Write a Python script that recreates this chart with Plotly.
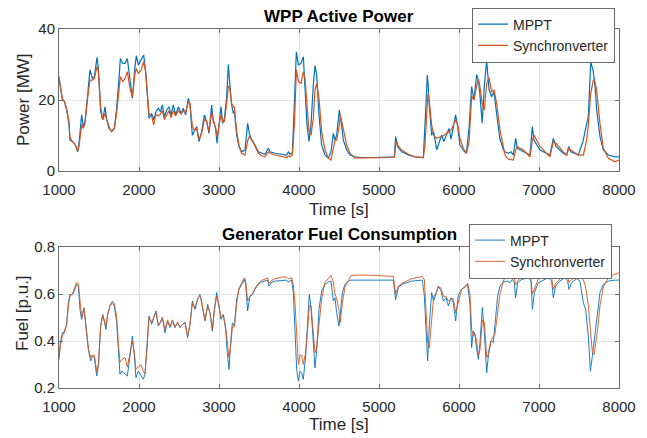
import plotly.graph_objects as go

# ---------------- data ----------------
t_power = [1000, 1025, 1042, 1067, 1096, 1125, 1137, 1167, 1192, 1221, 1233, 1250, 1283, 1304, 1325, 1358,
           1387, 1417, 1442, 1475, 1492, 1521, 1546, 1575, 1596, 1625, 1658, 1692, 1721, 1750, 1767, 1796,
           1825, 1854, 1887, 1917, 1950, 1967, 1992, 2025, 2058, 2083, 2108, 2125, 2158, 2183, 2212, 2242,
           2267, 2292, 2317, 2346, 2375, 2400, 2429, 2458, 2492, 2525, 2554, 2583, 2617, 2637, 2667, 2692,
           2721, 2750, 2783, 2817, 2846, 2875, 2908, 2929, 2958, 2975, 3000, 3025, 3046, 3067, 3096, 3117,
           3133, 3158, 3179, 3192, 3221, 3250, 3283, 3325, 3358, 3379, 3408, 3450, 3492, 3533, 3575, 3617,
           3637, 3700, 3783, 3846, 3867, 3888, 3917, 3942, 3967, 3992, 4025, 4054, 4075, 4100, 4125, 4150,
           4179, 4200, 4221, 4250, 4283, 4325, 4367, 4400, 4429, 4450, 4471, 4483, 4504, 4517, 4525, 4554,
           4596, 4637, 4700, 4783, 4950, 5117, 5192, 5208, 5220, 5233, 5283, 5367, 5450, 5554, 5575, 5604,
           5615, 5625, 5658, 5683, 5721, 5783, 5810, 5875, 5900, 5958, 5980, 6012, 6054, 6092, 6125, 6158,
           6187, 6221, 6242, 6260, 6290, 6317, 6346, 6375, 6408, 6437, 6471, 6512, 6554, 6575, 6617, 6650,
           6679, 6708, 6729, 6804, 6887, 6917, 6937, 7012, 7137, 7179, 7212, 7304, 7346, 7371, 7396, 7492,
           7554, 7596, 7617, 7646, 7679, 7700, 7721, 7762, 7804, 7867, 7950, 8000]

power_mppt = [26.6, 22.3, 20.0, 19.7, 17.2, 13.0, 8.7, 8.3, 7.8, 6.4, 5.4, 7.8, 15.8, 12.5, 13.9, 21.4,
              28.5, 26.1, 26.6, 32.0, 28.9, 16.7, 14.4, 18.1, 14.4, 12.0, 11.3, 12.0, 17.7, 26.1, 31.7, 30.3,
              30.3, 31.7, 26.1, 20.5, 29.4, 32.5, 29.9, 31.3, 32.7, 28.0, 20.5, 14.8, 16.2, 14.4, 16.7, 17.7,
              16.7, 18.6, 15.3, 17.2, 18.1, 15.8, 18.6, 15.8, 18.1, 16.2, 17.7, 15.8, 20.5, 18.6, 10.1, 11.1,
              12.5, 8.3, 11.1, 15.8, 13.9, 10.6, 18.6, 13.9, 12.0, 7.8, 13.0, 18.1, 13.4, 14.8, 20.9, 30.0,
              25.2, 18.6, 16.2, 17.0, 10.1, 6.9, 5.4, 5.9, 13.4, 10.6, 8.7, 7.3, 5.4, 5.0, 4.7, 6.4,
              5.4, 5.0, 4.7, 4.5, 5.4, 4.7, 5.0, 22.3, 33.6, 29.9, 30.3, 32.2, 24.2, 13.0, 8.3, 13.0,
              24.2, 29.7, 27.0, 15.8, 7.3, 4.5, 3.6, 5.4, 10.6, 8.7, 10.1, 13.0, 17.2, 15.5, 13.9, 8.7,
              5.9, 4.5, 4.0, 3.8, 3.8, 3.8, 4.0, 9.7, 8.0, 6.9, 5.4, 4.5, 4.0, 3.8, 13.0, 27.0,
              24.0, 19.5, 10.1, 11.1, 6.0, 10.1, 8.3, 12.0, 9.0, 15.8, 13.0, 7.3, 5.9, 5.0, 12.0, 23.8,
              20.0, 27.2, 25.6, 22.0, 13.5, 24.2, 31.0, 23.0, 20.9, 22.3, 16.0, 9.0, 6.0, 5.4, 5.0, 5.4,
              4.5, 9.2, 6.4, 5.4, 4.5, 12.5, 8.7, 5.9, 4.5, 9.2, 6.9, 5.0, 4.5, 6.9, 5.4, 4.5,
              8.7, 13.4, 15.3, 30.8, 28.0, 24.0, 17.2, 9.7, 5.9, 4.5, 4.0, 4.0]

power_sync = [26.0, 22.5, 20.5, 19.5, 17.5, 14.0, 9.5, 8.3, 7.8, 6.6, 5.6, 7.0, 13.0, 12.0, 13.5, 20.5,
              25.6, 25.6, 26.0, 29.5, 28.0, 18.0, 14.5, 16.2, 14.8, 12.5, 11.0, 12.0, 16.5, 23.0, 26.6, 25.2,
              26.0, 28.0, 23.3, 20.9, 27.5, 28.9, 27.5, 28.4, 30.8, 28.0, 21.4, 16.2, 15.5, 13.0, 16.0, 15.5,
              16.0, 17.0, 14.5, 16.0, 17.0, 15.0, 17.0, 15.5, 17.0, 16.0, 17.0, 16.5, 19.5, 19.0, 12.5, 11.5,
              12.0, 9.0, 10.5, 14.5, 14.0, 11.0, 16.5, 14.5, 12.0, 9.5, 12.5, 16.0, 14.0, 14.0, 19.0, 24.0,
              23.5, 19.0, 18.0, 18.0, 11.0, 7.3, 5.0, 4.5, 8.5, 9.7, 9.0, 6.9, 5.0, 4.3, 4.0, 5.4,
              5.0, 4.5, 4.0, 3.8, 4.2, 4.0, 4.5, 13.0, 28.5, 25.2, 24.7, 28.0, 26.1, 17.7, 11.1, 10.1,
              14.8, 22.8, 24.7, 20.5, 11.1, 5.9, 3.6, 3.1, 5.9, 8.7, 8.7, 10.0, 13.0, 15.8, 15.0, 12.0,
              7.3, 5.0, 3.6, 3.7, 3.8, 3.8, 3.8, 7.0, 8.3, 7.3, 5.9, 4.7, 4.0, 3.8, 7.3, 19.0,
              22.0, 20.5, 13.0, 10.1, 9.2, 9.7, 10.0, 11.1, 11.5, 14.4, 13.5, 9.2, 6.4, 5.0, 8.0, 21.0,
              20.0, 24.0, 25.9, 24.0, 19.0, 17.2, 24.7, 26.3, 22.3, 22.8, 19.0, 11.6, 7.0, 4.5, 3.3, 3.3,
              3.1, 5.9, 6.9, 5.9, 4.0, 8.7, 10.1, 6.9, 4.0, 8.3, 7.8, 5.4, 4.5, 6.4, 5.9, 4.5,
              4.5, 8.7, 13.0, 21.9, 25.6, 25.2, 22.8, 13.4, 6.4, 3.6, 2.6, 3.1]

t_fuel = [1000, 1017, 1042, 1067, 1096, 1117, 1137, 1167, 1192, 1221, 1242, 1262, 1283, 1312, 1337, 1367,
          1396, 1417, 1442, 1471, 1492, 1521, 1546, 1567, 1587, 1608, 1637, 1667, 1692, 1721, 1742, 1762,
          1783, 1825, 1854, 1887, 1917, 1942, 1962, 1992, 2025, 2054, 2075, 2100, 2125, 2158, 2183, 2212,
          2242, 2267, 2292, 2325, 2358, 2387, 2417, 2450, 2483, 2512, 2542, 2575, 2608, 2637, 2667, 2700,
          2733, 2762, 2775, 2804, 2825, 2858, 2887, 2917, 2942, 2971, 3000, 3025, 3054, 3083, 3104, 3125,
          3146, 3167, 3192, 3221, 3250, 3283, 3317, 3333, 3358, 3387, 3417, 3450, 3492, 3533, 3575, 3608,
          3625, 3650, 3700, 3783, 3846, 3867, 3908, 3929, 3950, 3971, 3992, 4012, 4033, 4054, 4083, 4108,
          4129, 4150, 4179, 4200, 4221, 4250, 4283, 4325, 4367, 4400, 4429, 4450, 4471, 4500, 4515, 4542,
          4575, 4617, 4650, 4700, 4867, 5179, 5208, 5242, 5283, 5408, 5542, 5567, 5588, 5608, 5629, 5658,
          5683, 5708, 5742, 5775, 5804, 5838, 5867, 5900, 5929, 5958, 5992, 6033, 6075, 6108, 6137, 6158,
          6179, 6200, 6221, 6242, 6262, 6292, 6317, 6346, 6375, 6400, 6429, 6450, 6483, 6512, 6554, 6596,
          6637, 6667, 6692, 6708, 6733, 6783, 6867, 6900, 6917, 6942, 6992, 7054, 7117, 7158, 7179, 7208,
          7262, 7325, 7358, 7375, 7408, 7471, 7512, 7554, 7583, 7617, 7642, 7667, 7690, 7733, 7762, 7804,
          7867, 7950, 8000]

fuel_mppt = [0.329, 0.393, 0.435, 0.435, 0.471, 0.563, 0.598, 0.598, 0.613, 0.641, 0.634, 0.535, 0.492, 0.542, 0.464, 0.364,
             0.315, 0.336, 0.329, 0.251, 0.294, 0.464, 0.513, 0.478, 0.450, 0.513, 0.549, 0.563, 0.549, 0.478, 0.364, 0.258,
             0.272, 0.258, 0.251, 0.336, 0.421, 0.336, 0.244, 0.272, 0.251, 0.237, 0.258, 0.379, 0.506, 0.471, 0.499, 0.528,
             0.464, 0.478, 0.499, 0.435, 0.485, 0.457, 0.485, 0.457, 0.478, 0.457, 0.471, 0.478, 0.414, 0.471, 0.570, 0.535,
             0.577, 0.598, 0.577, 0.520, 0.485, 0.556, 0.520, 0.442, 0.535, 0.606, 0.535, 0.492, 0.513, 0.450, 0.350, 0.279,
             0.393, 0.478, 0.464, 0.577, 0.620, 0.641, 0.662, 0.641, 0.528, 0.591, 0.598, 0.620, 0.641, 0.651, 0.655, 0.659,
             0.634, 0.648, 0.655, 0.659, 0.659, 0.651, 0.659, 0.606, 0.464, 0.279, 0.230, 0.272, 0.265, 0.237, 0.336, 0.506,
             0.598, 0.542, 0.364, 0.286, 0.357, 0.535, 0.613, 0.641, 0.651, 0.655, 0.570, 0.584, 0.520, 0.464, 0.513, 0.606,
             0.641, 0.655, 0.659, 0.659, 0.659, 0.659, 0.577, 0.627, 0.641, 0.655, 0.659, 0.591, 0.450, 0.315, 0.464, 0.606,
             0.570, 0.598, 0.634, 0.613, 0.570, 0.584, 0.549, 0.584, 0.563, 0.485, 0.598, 0.620, 0.634, 0.641, 0.556, 0.372,
             0.442, 0.428, 0.364, 0.322, 0.393, 0.542, 0.435, 0.265, 0.364, 0.400, 0.393, 0.464, 0.591, 0.634, 0.651, 0.655,
             0.648, 0.662, 0.648, 0.584, 0.648, 0.662, 0.669, 0.655, 0.535, 0.606, 0.648, 0.659, 0.669, 0.655, 0.584, 0.634,
             0.655, 0.669, 0.655, 0.620, 0.648, 0.665, 0.655, 0.563, 0.535, 0.421, 0.272, 0.336, 0.400, 0.535, 0.606, 0.641,
             0.655, 0.659, 0.659]

fuel_sync = [0.320, 0.380, 0.420, 0.440, 0.470, 0.550, 0.590, 0.600, 0.620, 0.650, 0.645, 0.560, 0.500, 0.540, 0.470, 0.370,
             0.330, 0.340, 0.340, 0.270, 0.300, 0.460, 0.510, 0.490, 0.460, 0.510, 0.550, 0.570, 0.560, 0.500, 0.390, 0.310,
             0.320, 0.330, 0.290, 0.340, 0.400, 0.350, 0.280, 0.290, 0.300, 0.270, 0.260, 0.370, 0.500, 0.480, 0.500, 0.520,
             0.470, 0.480, 0.500, 0.450, 0.490, 0.460, 0.490, 0.460, 0.480, 0.460, 0.470, 0.480, 0.420, 0.470, 0.560, 0.540,
             0.580, 0.590, 0.580, 0.530, 0.490, 0.550, 0.520, 0.450, 0.530, 0.590, 0.550, 0.500, 0.510, 0.460, 0.380, 0.330,
             0.380, 0.460, 0.460, 0.560, 0.625, 0.650, 0.669, 0.655, 0.570, 0.590, 0.600, 0.625, 0.645, 0.658, 0.665, 0.668,
             0.645, 0.655, 0.665, 0.672, 0.672, 0.665, 0.669, 0.640, 0.560, 0.400, 0.300, 0.340, 0.340, 0.300, 0.350, 0.450,
             0.550, 0.550, 0.450, 0.350, 0.370, 0.470, 0.580, 0.650, 0.665, 0.680, 0.650, 0.600, 0.580, 0.530, 0.478, 0.560,
             0.630, 0.660, 0.678, 0.680, 0.680, 0.675, 0.600, 0.635, 0.645, 0.665, 0.675, 0.660, 0.550, 0.400, 0.370, 0.500,
             0.590, 0.600, 0.630, 0.625, 0.590, 0.590, 0.570, 0.580, 0.580, 0.520, 0.570, 0.620, 0.630, 0.645, 0.600, 0.450,
             0.420, 0.430, 0.400, 0.340, 0.360, 0.490, 0.480, 0.330, 0.350, 0.400, 0.420, 0.430, 0.520, 0.600, 0.655, 0.684,
             0.680, 0.672, 0.665, 0.640, 0.655, 0.675, 0.685, 0.670, 0.600, 0.620, 0.665, 0.675, 0.685, 0.670, 0.620, 0.645,
             0.665, 0.685, 0.670, 0.650, 0.660, 0.680, 0.680, 0.660, 0.630, 0.550, 0.450, 0.350, 0.343, 0.450, 0.550, 0.630,
             0.670, 0.685, 0.690]

x_ticks = [1000, 2000, 3000, 4000, 5000, 6000, 7000, 8000]
series_names = ["MPPT", "Synchronverter"]
colors = ["#0072BD", "#D95319"]

# ---------------- figure ----------------
fig = go.Figure()
fig.add_trace(go.Scatter(x=t_power, y=power_mppt, name=series_names[0], mode="lines",
                         line=dict(color=colors[0], width=1.2), xaxis="x", yaxis="y", legend="legend"))
fig.add_trace(go.Scatter(x=t_power, y=power_sync, name=series_names[1], mode="lines",
                         line=dict(color=colors[1], width=1.2), xaxis="x", yaxis="y", legend="legend"))
fig.add_trace(go.Scatter(x=t_fuel, y=fuel_mppt, name=series_names[0], mode="lines",
                         line=dict(color=colors[0], width=0.9), xaxis="x2", yaxis="y2", legend="legend2"))
fig.add_trace(go.Scatter(x=t_fuel, y=fuel_sync, name=series_names[1], mode="lines",
                         line=dict(color=colors[1], width=0.9), xaxis="x2", yaxis="y2", legend="legend2"))

FONT = "Liberation Sans, Arial, sans-serif"
tickfont = dict(family=FONT, size=15, color="#262626")
axis_common = dict(showline=True, linecolor="#6a6a6a", linewidth=1, mirror="ticks",
                   ticks="inside", ticklen=4, tickcolor="#6a6a6a",
                   showgrid=True, gridcolor="#e4e4e4", gridwidth=1, zeroline=False,
                   tickfont=tickfont)
xaxis_extra = dict(ticklabelstandoff=5)

top_dom = [(388 - 171) / 359, 1.0]
bot_dom = [0.0, (388 - 247) / 359]

def px_x(p):
    return (p - 59) / 560

def px_y(p):
    return (388 - p) / 359

# page body has an 8px margin, so the figure is 8px smaller than the window
fig.update_layout(
    width=639, height=430,
    margin=dict(l=51, r=28, t=21, b=50, autoexpand=False),
    paper_bgcolor="white", plot_bgcolor="white",
    font=dict(family=FONT, color="#262626"),
    showlegend=True,
    xaxis=dict(domain=[0, 1], anchor="y", range=[1000, 8000], tickvals=x_ticks, **axis_common, **xaxis_extra),
    yaxis=dict(domain=top_dom, anchor="x", range=[0, 40], tickvals=[0, 20, 40], **axis_common),
    xaxis2=dict(domain=[0, 1], anchor="y2", range=[1000, 8000], tickvals=x_ticks, **axis_common, **xaxis_extra),
    yaxis2=dict(domain=bot_dom, anchor="x2", range=[0.2, 0.8], tickvals=[0.2, 0.4, 0.6, 0.8],
                tickformat=".1f", **axis_common),
    legend=dict(x=px_x(615), y=px_y(7.5), xanchor="right", yanchor="top",
                bgcolor="white", bordercolor="#6a6a6a", borderwidth=1,
                font=dict(family=FONT, size=14, color="#262626"), itemwidth=30, tracegroupgap=0),
    legend2=dict(x=px_x(612), y=px_y(223.5), xanchor="right", yanchor="top",
                 bgcolor="white", bordercolor="#6a6a6a", borderwidth=1,
                 font=dict(family=FONT, size=14, color="#262626"), itemwidth=30, tracegroupgap=0),
)

annos = [
    dict(text="<b>WPP Active Power</b>", x=0.5, y=px_y(16), size=17, color="#000000", angle=0),
    dict(text="<b>Generator Fuel Consumption</b>", x=0.5, y=px_y(234), size=17, color="#000000", angle=0),
    dict(text="Time [s]", x=0.5, y=px_y(210), size=17, color="#262626", angle=0),
    dict(text="Time [s]", x=0.5, y=px_y(424), size=17, color="#262626", angle=0),
    dict(text="Power [MW]", x=px_x(23), y=px_y(100), size=17, color="#262626", angle=-90),
    dict(text="Fuel [p.u.]", x=px_x(22), y=px_y(313), size=17, color="#262626", angle=-90),
]
for a in annos:
    fig.add_annotation(text=a["text"], x=a["x"], y=a["y"], xref="paper", yref="paper",
                       xanchor="center", yanchor="middle", showarrow=False, textangle=a["angle"],
                       font=dict(family=FONT, size=a["size"], color=a["color"]))

fig.write_html("out.html")
